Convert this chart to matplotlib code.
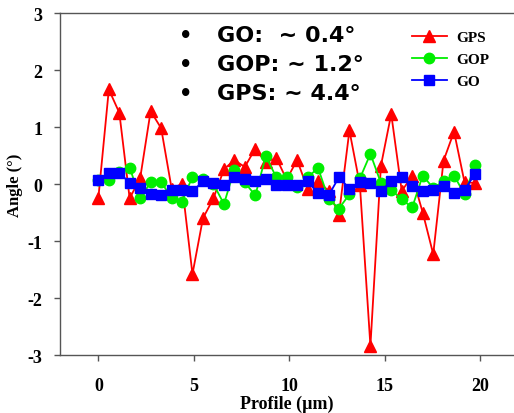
import matplotlib
matplotlib.use("Agg")
import matplotlib.pyplot as plt

# profile positions (um)
x = [0.0, 0.55, 1.1, 1.64, 2.19, 2.74, 3.29, 3.84, 4.38, 4.93, 5.48, 6.03,
     6.58, 7.12, 7.67, 8.22, 8.77, 9.32, 9.86, 10.41, 10.96, 11.51, 12.06,
     12.6, 13.15, 13.7, 14.25, 14.8, 15.34, 15.89, 16.44, 16.99, 17.54,
     18.08, 18.63, 19.18, 19.73]

gps = [-0.25, 1.66, 1.25, -0.25, 0.1, 1.28, 0.98, -0.08, 0.0, -1.58, -0.6,
       -0.25, 0.26, 0.42, 0.3, 0.62, 0.38, 0.46, 0.08, 0.42, -0.08, 0.05,
       -0.12, -0.54, 0.94, -0.02, -2.84, 0.32, 1.23, -0.12, 0.14, -0.5,
       -1.23, 0.41, 0.92, 0.03, 0.02]

gop = [0.07, 0.07, 0.22, 0.29, -0.25, 0.03, 0.04, -0.25, -0.31, 0.13, 0.09,
       0.0, -0.35, 0.25, 0.03, -0.2, 0.49, 0.12, 0.12, -0.05, 0.12, 0.28,
       -0.26, -0.43, -0.18, 0.1, 0.53, 0.02, -0.1, -0.27, -0.41, 0.15,
       -0.07, 0.05, 0.15, -0.18, 0.33]

go = [0.075, 0.2, 0.2, 0.02, -0.07, -0.18, -0.19, -0.1, -0.1, -0.13, 0.05,
      0.01, -0.02, 0.13, 0.09, 0.05, 0.09, -0.02, -0.02, -0.02, 0.05, -0.16,
      -0.2, 0.12, -0.08, 0.03, 0.02, -0.12, 0.05, 0.12, -0.04, -0.12, -0.1,
      -0.04, -0.16, -0.1, 0.18]

notes = ["GO:  ~ 0.4\u00b0", "GOP: ~ 1.2\u00b0", "GPS: ~ 4.4\u00b0"]

plt.rcParams['axes.unicode_minus'] = False
serif = ['Liberation Serif', 'DejaVu Serif']

fig = plt.figure(figsize=(5.14, 4.14), dpi=100)
ax = fig.add_axes([0.117, 0.14, 0.883, 0.826])

ax.plot(x, gps, color='#ff0000', marker='^', markersize=8, linewidth=1.3, label='GPS')
ax.plot(x, gop, color='#00ee00', marker='o', markersize=7.5, linewidth=1.3, label='GOP')
ax.plot(x, go, color='#0000ff', marker='s', markersize=7, linewidth=1.3, label='GO')

ax.set_xlim(-2, 21.77)
ax.set_ylim(-3, 3)
ax.set_xticks([0, 5, 10, 15, 20])
ax.set_yticks([-3, -2, -1, 0, 1, 2, 3])

for s in ['left', 'bottom', 'top']:
    ax.spines[s].set_color('#555555')
    ax.spines[s].set_linewidth(1.0)
ax.spines['right'].set_visible(False)
ax.tick_params(direction='out', length=4, width=1, color='#555555')
ax.tick_params(axis='x', pad=12)
ax.tick_params(axis='y', pad=9)
for lab in ax.get_xticklabels() + ax.get_yticklabels():
    lab.set_fontfamily(serif)
    lab.set_fontweight('bold')
    lab.set_fontsize(13)

ax.set_xlabel('Profile (\u00b5m)', family=serif, fontweight='bold', fontsize=13, labelpad=0)
ax.set_ylabel('Angle (\u00b0)', family=serif, fontweight='bold', fontsize=12,
              va='center')
ax.yaxis.set_label_coords(-0.1, 0.5)

leg = ax.legend(loc='upper right', bbox_to_anchor=(0.975, 0.99), frameon=False,
                prop={'family': serif, 'weight': 'bold', 'size': 11},
                handlelength=2.3, handletextpad=0.6, labelspacing=0.55)

for i, t in enumerate(notes):
    yy = 0.937 - i * 0.085
    ax.text(0.277, yy, '\u2022', transform=ax.transAxes, fontsize=15,
            fontweight='bold', va='center', ha='center')
    ax.text(0.346, yy, t, transform=ax.transAxes, fontsize=16,
            fontweight='bold', va='center', ha='left')

fig.savefig('out.png', dpi=100)
